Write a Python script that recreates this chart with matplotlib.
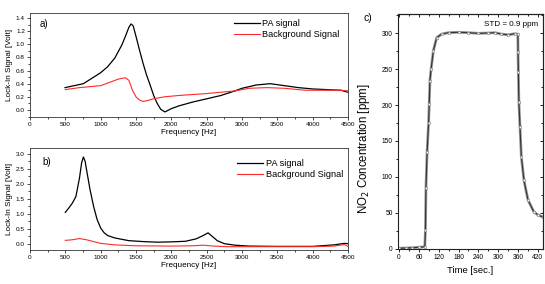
import matplotlib
matplotlib.use("Agg")
import matplotlib.pyplot as plt
from matplotlib.ticker import AutoMinorLocator, MultipleLocator

plt.rcParams['font.family'] = ['Liberation Sans', 'DejaVu Sans']

# ---- panel a) data ----
freq_a_pa = [496, 755, 1000, 1100, 1200, 1300, 1350, 1400, 1430, 1460, 1500, 1550, 1600, 1650,
             1700, 1750, 1800, 1850, 1910, 2000, 2100, 2300, 2500, 2700, 2900, 3000, 3200,
             3400, 3600, 3800, 4000, 4200, 4400, 4500]
pa_a = [0.34, 0.40, 0.567, 0.66, 0.79, 0.99, 1.12, 1.26, 1.31, 1.28, 1.12, 0.91, 0.71, 0.53,
        0.38, 0.22, 0.10, 0.01, -0.03, 0.02, 0.06, 0.12, 0.17, 0.22, 0.29, 0.33, 0.38,
        0.40, 0.37, 0.34, 0.32, 0.31, 0.30, 0.27]
freq_a_bg = [500, 700, 1000, 1150, 1250, 1350, 1400, 1450, 1500, 1550, 1600, 1650, 1750, 1900,
             2100, 2500, 2900, 3100, 3350, 3600, 3900, 4200, 4400, 4500]
bg_a = [0.31, 0.34, 0.37, 0.43, 0.47, 0.49, 0.45, 0.30, 0.20, 0.15, 0.13, 0.14, 0.17, 0.20,
        0.22, 0.25, 0.29, 0.33, 0.34, 0.33, 0.30, 0.30, 0.30, 0.29]

# ---- panel b) data ----
freq_b_pa = [500, 550, 600, 650, 700, 730, 755, 780, 800, 850, 900, 950, 1000, 1050, 1100,
             1200, 1400, 1600, 1800, 2000, 2200, 2350, 2450, 2520, 2580, 2650, 2750, 2900,
             3100, 3500, 4000, 4300, 4450, 4500]
pa_b = [1.05, 1.20, 1.36, 1.58, 2.19, 2.69, 2.89, 2.75, 2.47, 1.80, 1.25, 0.81, 0.53, 0.37, 0.28,
        0.20, 0.11, 0.08, 0.06, 0.07, 0.09, 0.17, 0.28, 0.37, 0.25, 0.11, 0.01, -0.04,
        -0.07, -0.08, -0.08, -0.03, 0.02, 0.01]
freq_b_bg = [500, 600, 700, 800, 900, 1000, 1200, 1500, 2000, 2300, 2450, 2600, 2800, 3500,
             4000, 4300, 4450, 4500]
bg_b = [0.12, 0.14, 0.18, 0.14, 0.08, 0.02, -0.03, -0.06, -0.07, -0.06, -0.04, -0.07, -0.09,
        -0.09, -0.09, -0.07, -0.02, -0.08]

# ---- panel c) data ----
time_c = [0, 20, 40, 60, 78, 80, 81.5, 85, 89.5, 91.5, 93.5, 97, 104, 114, 129, 150, 180, 210,
          240, 270, 290, 310, 330, 350, 359.5, 360, 361, 362.6, 366, 370, 378, 390, 408, 420, 435]
no2_c = [0.5, 0.8, 1.2, 1.8, 2.5, 26, 84, 135, 175, 202, 234, 250, 276, 294, 299, 301, 301.5,
         301, 300, 300.5, 301, 299, 298, 299.5, 299, 274, 246, 204, 169, 128, 95, 68, 51, 47, 44]

W, H = 545, 284
fig = plt.figure(figsize=(W / 100, H / 100), dpi=100)

red = "#ff2a2a"
tick_fs = 4.6
lab_fs = 5.9


def style_freq_axis(ax):
    ax.set_xlim(0, 4500)
    ax.xaxis.set_major_locator(MultipleLocator(500))
    ax.xaxis.set_minor_locator(AutoMinorLocator(2))
    ax.yaxis.set_minor_locator(AutoMinorLocator(2))
    ax.tick_params(which="both", direction="out", top=False, right=False,
                   labelsize=tick_fs, width=0.5, pad=1.5)
    ax.tick_params(which="major", length=2.2)
    ax.tick_params(which="minor", length=1.3)
    for s in ax.spines.values():
        s.set_linewidth(0.6)
        s.set_color("#333333")
    ax.set_xlabel("Frequency [Hz]", fontsize=lab_fs, labelpad=1.5)
    ax.set_ylabel("Lock-In Signal [Volt]", fontsize=lab_fs, labelpad=2)


##### panel a #####
ax1 = fig.add_axes([30 / W, 1 - 117 / H, 318 / W, 104 / H])
ax1.plot(freq_a_pa, pa_a, color="black", lw=0.9, label="PA signal")
ax1.plot(freq_a_bg, bg_a, color=red, lw=0.8, label="Background Signal")
ax1.set_ylim(-0.107, 1.476)
ax1.yaxis.set_major_locator(MultipleLocator(0.2))
style_freq_axis(ax1)
ax1.text(0.03, 0.87, "a)", transform=ax1.transAxes, fontsize=7)
ax1.legend(loc="upper left", bbox_to_anchor=(0.63, 0.98), frameon=False, fontsize=6.6,
           handlelength=2.8, handletextpad=0.3, labelspacing=0.25, borderaxespad=0)

##### panel b #####
ax2 = fig.add_axes([30 / W, 1 - 250 / H, 318 / W, 102 / H])
ax2.plot(freq_b_pa, pa_b, color="black", lw=0.9, label="PA signal")
ax2.plot(freq_b_bg, bg_b, color=red, lw=0.8, label="Background Signal")
ax2.set_ylim(-0.2, 3.19)
ax2.yaxis.set_major_locator(MultipleLocator(0.5))
style_freq_axis(ax2)
ax2.text(0.04, 0.83, "b)", transform=ax2.transAxes, fontsize=7)
ax2.legend(loc="upper left", bbox_to_anchor=(0.64, 0.93), frameon=False, fontsize=6.6,
           handlelength=2.8, handletextpad=0.3, labelspacing=0.25, borderaxespad=0)

##### panel c #####
ax3 = fig.add_axes([398 / W, 1 - 249.3 / H, 144.5 / W, 235.3 / H])
ax3.plot(time_c, no2_c, color="#9a9a9a", lw=2.0, solid_capstyle="round")
ax3.plot(time_c, no2_c, color="#333333", lw=0.8, marker="o", ms=1.8,
         mfc="white", mec="#8a8a8a", mew=0.5)
ax3.set_xlim(-3, 434)
ax3.set_ylim(-1, 327)
ax3.xaxis.set_major_locator(MultipleLocator(60))
ax3.xaxis.set_minor_locator(AutoMinorLocator(2))
ax3.yaxis.set_major_locator(MultipleLocator(50))
ax3.yaxis.set_minor_locator(AutoMinorLocator(2))
ax3.tick_params(which="both", direction="out", labelsize=4.8, width=0.6, pad=1.5)
ax3.tick_params(which="major", length=2.2)
ax3.tick_params(which="minor", length=1.3)

# inward ticks on top and right, no labels
ax3t = ax3.secondary_xaxis("top")
ax3t.xaxis.set_major_locator(MultipleLocator(60))
ax3t.xaxis.set_minor_locator(AutoMinorLocator(2))
ax3t.tick_params(which="both", direction="in", labeltop=False, width=0.6)
ax3t.tick_params(which="major", length=2.2)
ax3t.tick_params(which="minor", length=1.3)
ax3r = ax3.secondary_yaxis("right")
ax3r.yaxis.set_major_locator(MultipleLocator(50))
ax3r.yaxis.set_minor_locator(AutoMinorLocator(2))
ax3r.tick_params(which="both", direction="in", labelright=False, width=0.6)
ax3r.tick_params(which="major", length=2.2)
ax3r.tick_params(which="minor", length=1.3)

for s in ax3.spines.values():
    s.set_linewidth(0.8)
    s.set_color("#222222")
ax3.set_xlabel("Time [sec.]", fontsize=6.8, labelpad=3.5)
ax3.set_ylabel("NO$_2$ Concentration [ppm]", fontsize=8.3)
ax3.yaxis.set_label_coords(-0.18, 0.43)
ax3.text(0.97, 0.955, "STD = 0.9 ppm", transform=ax3.transAxes, fontsize=5.8,
         ha="right", va="center")
fig.text(364 / W, 1 - 18 / H, "c)", fontsize=7.5, va="center")

fig.savefig("out.png", dpi=100)
